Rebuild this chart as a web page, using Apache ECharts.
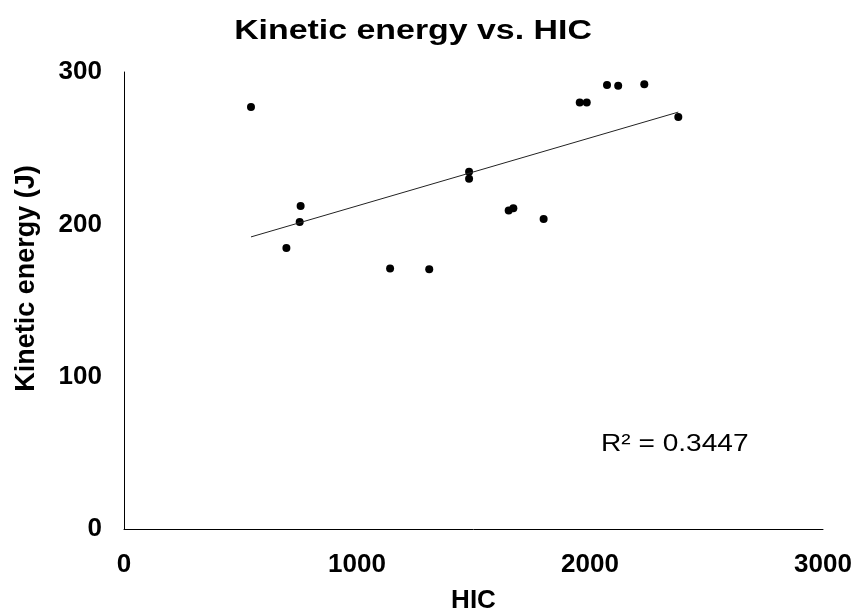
<!DOCTYPE html>
<html>
<head>
<meta charset="utf-8">
<style>
  html, body { margin: 0; padding: 0; background: #fff; }
  #chart { width: 855px; height: 612px; }
</style>
<script src="https://cdn.jsdelivr.net/npm/echarts@6/dist/echarts.min.js"></script>
</head>
<body>
<div id="chart"></div>
<script>
// HIC values and matching kinetic energy (J)
const hic = [545, 697, 754, 758, 1142, 1310, 1481, 1481, 1651, 1671, 1801, 1956, 1986, 2073, 2121, 2233, 2379]
const energy = [277, 184.5, 201.5, 212, 171, 170.5, 234.5, 230, 209, 210.5, 203.5, 280, 280, 291.5, 291, 292, 270.5]
const xTicks = [0, 1000, 2000, 3000]
const yTicks = [0, 100, 200, 300]
const rSquared = '0.3447'

const points = hic.map((x, i) => [x, energy[i]])

// least squares trend line, drawn between the smallest and largest HIC
function trend (pts) {
  const n = pts.length
  let sx = 0, sy = 0, sxx = 0, sxy = 0
  pts.forEach(p => {
    sx += p[0]; sy += p[1]; sxx += p[0] * p[0]; sxy += p[0] * p[1]
  })
  const b = (n * sxy - sx * sy) / (n * sxx - sx * sx)
  const a = (sy - b * sx) / n
  const lo = Math.min(...hic)
  const hi = Math.max(...hic)
  return [[lo, a + b * lo], [hi, a + b * hi]]
}

const font = 'Liberation Sans, Arial, sans-serif'
const myChart = echarts.init(document.getElementById('chart'))
myChart.setOption({
  animation: false,
  grid: { left: 124, right: 32, top: 72, bottom: 83, outerBoundsMode: 'none' },
  xAxis: {
    type: 'value',
    min: 0,
    max: 3000,
    interval: 1000,
    name: 'HIC',
    nameLocation: 'middle',
    nameGap: 59,
    nameTextStyle: { fontFamily: font, fontSize: 26, fontWeight: 'bold', color: '#000' },
    axisLine: { show: true, lineStyle: { color: '#000', width: 1 } },
    axisTick: { show: false },
    splitLine: { show: false },
    axisLabel: {
      margin: 23,
      fontFamily: font, fontSize: 26, fontWeight: 'bold', color: '#000',
      formatter: v => xTicks.includes(v) ? String(v) : ''
    }
  },
  yAxis: {
    type: 'value',
    min: 0,
    max: 300,
    interval: 100,
    name: 'Kinetic energy (J)',
    nameLocation: 'middle',
    nameGap: 84,
    nameTextStyle: {
      fontFamily: font, fontSize: 27, fontWeight: 'bold', color: '#000',
      padding: [0, 0, 0, 44]
    },
    axisLine: { show: true, lineStyle: { color: '#000', width: 1 } },
    axisTick: { show: false },
    splitLine: { show: false },
    axisLabel: {
      margin: 22,
      fontFamily: font, fontSize: 26, fontWeight: 'bold', color: '#000',
      formatter: v => yTicks.includes(v) ? String(v) : ''
    }
  },
  graphic: [
    {
      // title, a little wider than the plain font
      type: 'text',
      x: 413,
      y: 31,
      scaleX: 1.21,
      style: {
        text: 'Kinetic energy vs. HIC',
        font: 'bold 28px ' + font,
        fill: '#000',
        align: 'center',
        verticalAlign: 'middle'
      }
    },
    {
      type: 'text',
      x: 601,
      y: 444,
      scaleX: 1.17,
      style: {
        text: 'R² = ' + rSquared,
        font: '24px ' + font,
        fill: '#000',
        align: 'left',
        verticalAlign: 'middle'
      }
    }
  ],
  series: [
    {
      type: 'scatter',
      data: points,
      symbol: 'circle',
      symbolSize: 8,
      itemStyle: { color: '#000', opacity: 1 }
    },
    {
      type: 'line',
      data: trend(points),
      symbol: 'none',
      lineStyle: { color: '#222', width: 1 }
    }
  ]
})
</script>
</body>
</html>
